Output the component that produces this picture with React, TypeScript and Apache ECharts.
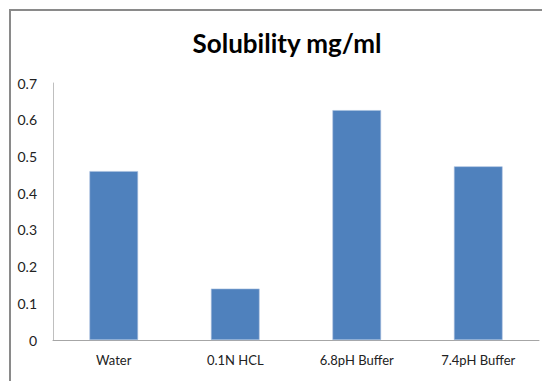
import React, { useEffect, useRef } from "react";
import * as echarts from "echarts";

const categories = ["Water", "0.1N HCL", "6.8pH Buffer", "7.4pH Buffer"];
const solubility = [0.46, 0.14, 0.626, 0.473];
const yTicks = { min: 0, max: 0.7, interval: 0.1 };

const FONT = "Lato, 'Open Sans', sans-serif";

export default function App() {
  const ref = useRef<HTMLDivElement>(null);

  useEffect(() => {
    document.body.style.margin = "0";
    const chart = echarts.init(ref.current!, null, { renderer: "svg" });
    chart.setOption({
      animation: false,
      backgroundColor: "#ffffff",
      title: {
        text: "Solubility mg/ml",
        left: 282,
        textAlign: "center",
        top: 25,
        textStyle: { fontFamily: FONT, fontSize: 26, fontWeight: "bold", color: "#000000" },
      },
      graphic: [
        {
          type: "rect",
          shape: { x: 10, y: 10, width: 600, height: 420 },
          style: { fill: "none", stroke: "#8a8a8a", lineWidth: 2 },
          silent: true,
          z: -1,
        },
      ],
      grid: { left: 53, right: 3, top: 83, bottom: 41, containLabel: false },
      xAxis: {
        type: "category",
        data: categories,
        axisLine: { lineStyle: { color: "#a6a6a6", width: 1 } },
        axisTick: { show: false },
        axisLabel: { fontFamily: FONT, fontSize: 13, color: "#222222", margin: 13 },
      },
      yAxis: {
        type: "value",
        min: yTicks.min,
        max: yTicks.max,
        interval: yTicks.interval,
        axisLine: { show: true, lineStyle: { color: "#bfbfbf", width: 1 } },
        axisTick: { show: false },
        splitLine: { show: false },
        axisLabel: {
          fontFamily: FONT,
          fontSize: 14,
          color: "#222222",
          margin: 16,
          padding: [3, 0, 0, 0],
          formatter: (v: number) => String(Math.round(v * 10) / 10),
        },
      },
      series: [
        {
          type: "bar",
          data: solubility,
          barWidth: "40%",
          itemStyle: { color: "#4f81bd", borderColor: "#a7c0de", borderWidth: 0.6 },
        },
      ],
    });
    return () => chart.dispose();
  }, []);

  return <div ref={ref} style={{ position: "absolute", left: 0, top: 0, width: 542, height: 381 }} />;
}
